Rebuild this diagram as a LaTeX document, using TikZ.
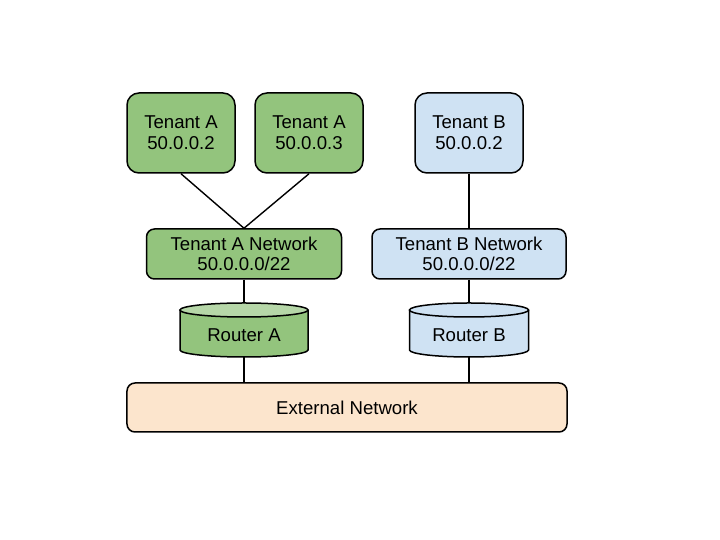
\documentclass[tikz,border=0pt]{standalone}
\usepackage{fontspec}
\setmainfont{Liberation Sans}
\definecolor{gfill}{HTML}{93C47D}
\definecolor{gtop}{HTML}{B6D7A8}
\definecolor{bfill}{HTML}{CFE2F3}
\definecolor{ofill}{HTML}{FCE5CD}
\begin{document}
\begin{tikzpicture}[x=1bp,y=1bp,
  every node/.style={font=\fontsize{18.6bp}{20.7bp}\selectfont, align=center, inner sep=0pt},
  tenantbox/.style={draw, line width=1.5bp, rounded corners=12bp, minimum width=108bp, minimum height=80bp},
  netbox/.style={draw, line width=1.5bp, rounded corners=8bp, minimum height=50bp},
  conn/.style={line width=1.4bp},
  cyl/.style={draw, line width=1.5bp}]
\useasboundingbox (0,0) rectangle (720,540);
% tenants
\node[tenantbox, fill=gfill] (a1) at (181,407) {Tenant A\\50.0.0.2};
\node[tenantbox, fill=gfill] (a2) at (309,407) {Tenant A\\50.0.0.3};
\node[tenantbox, fill=bfill] (b1) at (469,407) {Tenant B\\50.0.0.2};
% networks
\node[netbox, fill=gfill, minimum width=195bp] (anet) at (244,286) {Tenant A Network\\50.0.0.0/22};
\node[netbox, fill=bfill, minimum width=194bp] (bnet) at (469,286) {Tenant B Network\\50.0.0.0/22};
\node[netbox, fill=ofill, minimum width=440bp, minimum height=49bp] (ext) at (347,132.5) {External Network};
% routers (cylinders)
\fill[gfill] (180,230) -- (180,190) arc[start angle=180, end angle=360, x radius=64, y radius=7] -- (308,230) -- cycle;
\draw[cyl] (180,230) -- (180,190) arc[start angle=180, end angle=360, x radius=64, y radius=7] -- (308,230);
\draw[cyl, fill=gtop] (244,230) ellipse[x radius=64, y radius=7];
\fill[bfill] (409.5,230) -- (409.5,190) arc[start angle=180, end angle=360, x radius=59.5, y radius=7] -- (528.5,230) -- cycle;
\draw[cyl] (409.5,230) -- (409.5,190) arc[start angle=180, end angle=360, x radius=59.5, y radius=7] -- (528.5,230);
\draw[cyl, fill=bfill] (469,230) ellipse[x radius=59.5, y radius=7];
\node[minimum width=128bp, minimum height=54bp] (ra) at (244,210) {};
\node[minimum width=119bp, minimum height=54bp] (rb) at (469,210) {};
\node at (244,205) {Router A};
\node at (469,205) {Router B};
% connectors
\draw[conn] (a1.south) -- (anet.north);
\draw[conn] (a2.south) -- (anet.north);
\draw[conn] (b1.south) -- (bnet.north);
\draw[conn] (anet.south) -- (ra.north);
\draw[conn] (bnet.south) -- (rb.north);
\draw[conn] (ra.south) -- (ra.south |- ext.north);
\draw[conn] (rb.south) -- (rb.south |- ext.north);
\end{tikzpicture}
\end{document}
